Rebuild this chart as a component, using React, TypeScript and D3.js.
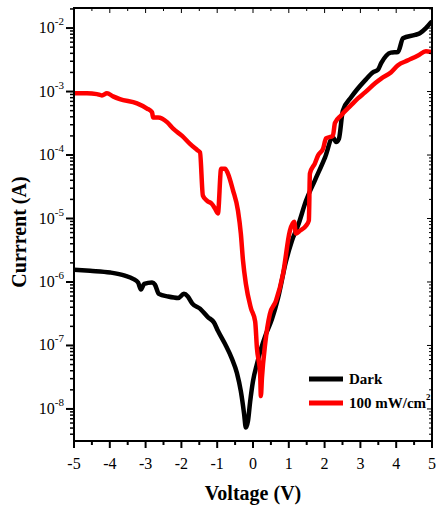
import React from "react";
import * as d3 from "d3";

// Dark I-V curve (voltage in V, current in A)
const darkV = [
  -5.0, -4.55, -3.99, -3.58, -3.35, -3.21, -3.13, -3.04, -2.82, -2.74, -2.63, -2.37, -2.09, -1.93,
  -1.82, -1.7, -1.48, -1.26, -1.09, -0.98, -0.78, -0.59, -0.45, -0.34, -0.25, -0.2, -0.14, -0.08,
  0.0, 0.11, 0.22, 0.36, 0.53, 0.7, 0.92, 1.09, 1.26, 1.48, 1.73, 2.01, 2.23, 2.32, 2.4, 2.51, 2.74,
  3.13, 3.35, 3.49, 3.58, 3.85, 4.05, 4.19, 4.53, 4.66, 4.83, 4.97,
];
const darkI = [
  1.56e-6, 1.5e-6, 1.41e-6, 1.26e-6, 1.12e-6, 9.8e-7, 7.6e-7, 9.3e-7, 9.8e-7, 9.1e-7, 6.5e-7, 5.9e-7,
  5.6e-7, 6.5e-7, 5.9e-7, 4.6e-7, 3.8e-7, 2.8e-7, 2.3e-7, 1.7e-7, 1.05e-7, 6.2e-8, 3.7e-8, 1.9e-8,
  8.5e-9, 5.1e-9, 6.5e-9, 1.3e-8, 2.75e-8, 5.1e-8, 8.7e-8, 1.5e-7, 2.6e-7, 5.6e-7, 2.1e-6, 4.5e-6,
  7.8e-6, 1.9e-5, 4.0e-5, 9.1e-5, 1.9e-4, 1.6e-4, 1.8e-4, 5.0e-4, 8.1e-4, 1.5e-3, 2.0e-3, 2.2e-3,
  2.8e-3, 4.1e-3, 4.2e-3, 6.9e-3, 7.8e-3, 8.3e-3, 1.0e-2, 1.23e-2,
];

// Illuminated (100 mW/cm2) curve
const lightV = [
  -5.0, -4.64, -4.36, -4.22, -4.08, -3.91, -3.72, -3.24, -2.96, -2.82, -2.79, -2.65, -2.4, -2.23,
  -1.98, -1.76, -1.56, -1.48, -1.4, -1.28, -1.15, -1.06, -0.98, -0.89, -0.78, -0.7, -0.56, -0.42,
  -0.34, -0.28, -0.2, -0.06, 0.06, 0.11, 0.2, 0.22, 0.25, 0.34, 0.47, 0.64, 0.84, 1.03, 1.15, 1.2,
  1.31, 1.48, 1.56, 1.59, 1.73, 1.82, 1.96, 2.04, 2.23, 2.29, 2.46, 2.74, 2.93, 3.13, 3.41, 3.58,
  3.85, 4.05, 4.33, 4.61, 4.83, 4.97,
];
const lightI = [
  9.4e-4, 9.4e-4, 9.1e-4, 8.7e-4, 9.4e-4, 8.4e-4, 7.6e-4, 6.5e-4, 5.4e-4, 4.7e-4, 3.9e-4, 3.9e-4,
  3.3e-4, 2.6e-4, 2.0e-4, 1.5e-4, 1.2e-4, 1.1e-4, 2.3e-5, 1.9e-5, 1.7e-5, 1.43e-5, 1.2e-5, 6.1e-5,
  6.1e-5, 5.1e-5, 2.8e-5, 1.33e-5, 5.8e-6, 2.2e-6, 9.4e-7, 3.9e-7, 2.4e-7, 9.1e-8, 3.5e-8, 1.6e-8,
  3.1e-8, 1.06e-7, 3.1e-7, 5.0e-7, 1.35e-6, 6.4e-6, 8.9e-6, 5.8e-6, 6.4e-6, 7.7e-6, 9.3e-6, 5.1e-5,
  7.4e-5, 9.9e-5, 1.27e-4, 1.83e-4, 2.0e-4, 3.2e-4, 4.2e-4, 6.1e-4, 7.8e-4, 9.7e-4, 1.35e-3, 1.6e-3,
  2.0e-3, 2.6e-3, 3.1e-3, 3.7e-3, 4.3e-3, 4.2e-3,
];

const xTicks = [-5, -4, -3, -2, -1, 0, 1, 2, 3, 4, 5];
const yExponents = [-8, -7, -6, -5, -4, -3, -2];
const legendNames = ["Dark", "100 mW/cm"];
const seriesColors = ["#000000", "#ff0000"];

const W = 436;
const H = 508;
const margin = { top: 8, right: 4, bottom: 67, left: 74 };
const serif = '"Liberation Serif", "DejaVu Serif", serif';

export default function App() {
  const x = d3.scaleLinear().domain([-5, 5]).range([margin.left, W - margin.right]);
  const y = d3
    .scaleLog()
    .domain([Math.pow(10, -8.505), Math.pow(10, -1.684)])
    .range([H - margin.bottom, margin.top]);

  const line = d3
    .line<[number, number]>()
    .x((d) => x(d[0]))
    .y((d) => y(d[1]))
    .curve(d3.curveMonotoneX);

  const dark = darkV.map((v, i) => [v, darkI[i]] as [number, number]);
  const light = lightV.map((v, i) => [v, lightI[i]] as [number, number]);

  const x0 = margin.left;
  const x1 = W - margin.right;
  const y0 = H - margin.bottom;
  const y1 = margin.top;

  const xMinor = d3.range(-4.5, 5, 1);
  const [yLo, yHi] = y.domain();
  const yMinor: number[] = [];
  for (let e = -9; e <= -2; e++) {
    for (let m = 2; m <= 9; m++) {
      const v = m * Math.pow(10, e);
      if (v >= yLo && v <= yHi) yMinor.push(v);
    }
  }

  return (
    <div style={{ position: "absolute", left: 0, top: 0 }}>
      <svg width={W} height={H} style={{ display: "block", background: "#fff" }} fontFamily={serif}>
        <defs>
          <clipPath id="plot">
            <rect x={x0} y={y1} width={x1 - x0} height={y0 - y1} />
          </clipPath>
        </defs>

        <g clipPath="url(#plot)" fill="none" strokeLinejoin="round" strokeLinecap="round">
          <path d={line(dark) ?? ""} stroke={seriesColors[0]} strokeWidth={4.5} />
          <path d={line(light) ?? ""} stroke={seriesColors[1]} strokeWidth={4.5} />
        </g>

        {/* frame */}
        <rect x={x0} y={y1} width={x1 - x0} height={y0 - y1} fill="none" stroke="#000" strokeWidth={2} />

        {/* ticks */}
        <g stroke="#000" strokeWidth={2}>
          {xTicks.map((t) => (
            <line key={"bx" + t} x1={x(t)} x2={x(t)} y1={y0} y2={y0 + 7} />
          ))}
          {xMinor.map((t) => (
            <line key={"bm" + t} x1={x(t)} x2={x(t)} y1={y0} y2={y0 + 4} />
          ))}
          {xTicks.map((t) => (
            <line key={"tx" + t} x1={x(t)} x2={x(t)} y1={y1} y2={y1 + 5} strokeWidth={1} />
          ))}
          {xMinor.map((t) => (
            <line key={"tm" + t} x1={x(t)} x2={x(t)} y1={y1} y2={y1 + 3} strokeWidth={1} />
          ))}
          {yExponents.map((e) => (
            <line key={"ly" + e} x1={x0 - 8} x2={x0} y1={y(Math.pow(10, e))} y2={y(Math.pow(10, e))} />
          ))}
          {yMinor.map((v, i) => (
            <line key={"lm" + i} x1={x0 - 4} x2={x0} y1={y(v)} y2={y(v)} strokeWidth={1.5} />
          ))}
          {yExponents.map((e) => (
            <line key={"ry" + e} x1={x1 - 5} x2={x1} y1={y(Math.pow(10, e))} y2={y(Math.pow(10, e))} strokeWidth={1} />
          ))}
          {yMinor.map((v, i) => (
            <line key={"rm" + i} x1={x1 - 3} x2={x1} y1={y(v)} y2={y(v)} strokeWidth={1} />
          ))}
        </g>

        {/* tick labels */}
        <g fontSize={16} fill="#000">
          {xTicks.map((t) => (
            <text key={"xl" + t} x={x(t)} y={y0 + 28} textAnchor="middle">
              {t}
            </text>
          ))}
          {yExponents.map((e) => (
            <text key={"yl" + e} x={x0 - 10} y={y(Math.pow(10, e)) + 5} textAnchor="end">
              10
              <tspan fontSize={11} dy={-8}>
                {e}
              </tspan>
            </text>
          ))}
        </g>

        {/* axis titles */}
        <text x={x(0)} y={500} textAnchor="middle" fontWeight="bold" fontSize={20}>
          Voltage (V)
        </text>
        <text
          transform={`translate(26,232) rotate(-90)`}
          textAnchor="middle"
          fontWeight="bold"
          fontSize={20}
        >
          Currrent (A)
        </text>

        {/* legend */}
        <g fontWeight="bold" fontSize={15}>
          {legendNames.map((name, i) => (
            <g key={name} transform={`translate(309,${379 + i * 24})`}>
              <line x1={0} x2={34} y1={0} y2={0} stroke={seriesColors[i]} strokeWidth={5} />
              <text x={40} y={5}>
                {name}
                {i === 1 && (
                  <tspan fontSize={9} dy={-8}>
                    2
                  </tspan>
                )}
              </text>
            </g>
          ))}
        </g>
      </svg>
    </div>
  );
}
